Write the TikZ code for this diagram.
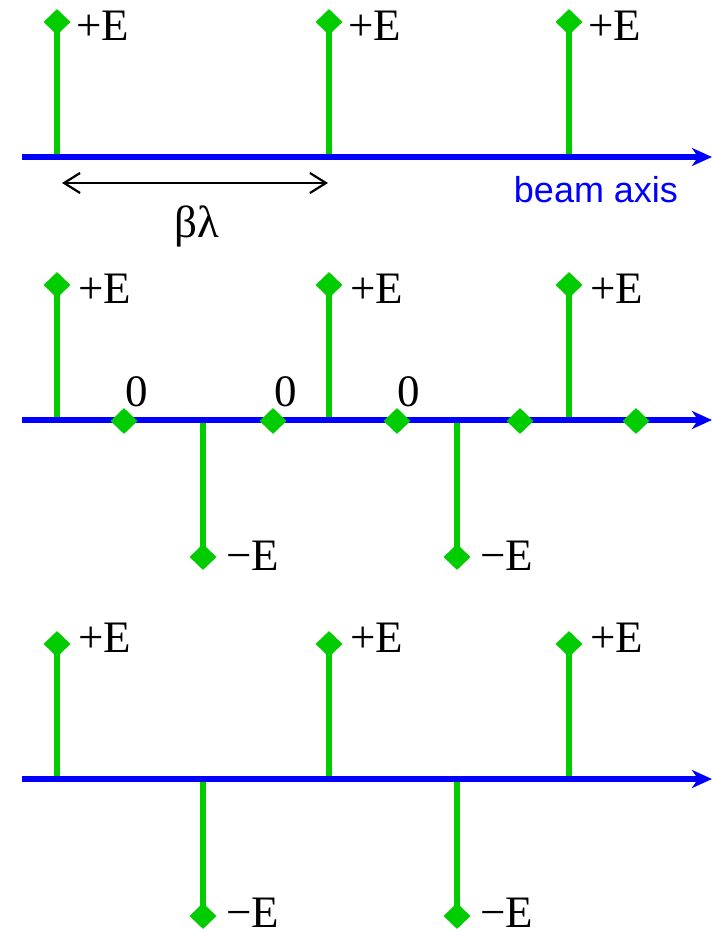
\documentclass[tikz,border=0pt]{standalone}
\usepackage{fontspec}
\setmainfont{Liberation Serif}
\newfontfamily\axisfont{Liberation Sans}
\usetikzlibrary{arrows.meta,shapes.geometric}
\definecolor{stemgreen}{RGB}{0,204,0}
\definecolor{axisblue}{RGB}{0,0,255}
\begin{document}
\begin{tikzpicture}[x=1pt,y=-1pt,
  axisline/.style={draw=axisblue,line width=5.5pt,-{Stealth[length=20pt,width=18pt,inset=6pt]}},
  stemline/.style={draw=stemgreen,line width=5.5pt},
  dmd/.style={shape=diamond,fill=stemgreen,inner sep=0pt,minimum width=27pt,minimum height=26pt},
  lbl/.style={inner sep=0pt,anchor=base west,font=\fontsize{45}{50}\selectfont},
  zlbl/.style={inner sep=0pt,anchor=base,font=\fontsize{45}{50}\selectfont},
  dimline/.style={draw=black,line width=2.2pt,{Straight Barb[length=16pt,width=20pt]}-{Straight Barb[length=16pt,width=20pt]}}]
\path[use as bounding box] (0,0) rectangle (712,933);

% ---------- panel 1 ----------
\coordinate (a1s) at (22,157);
\coordinate (a1e) at (712,157);
\foreach \n/\x in {1/57,2/329,3/569}{
  \coordinate (p1b\n) at (\x,157);
  \node[dmd] (p1d\n) at (\x,22) {};
  \draw[stemline] (p1d\n.center) -- (p1b\n);
  \node[lbl] (p1l\n) at (\x+19,41) {+E};
}
\draw[axisline] (a1s) -- (a1e);
\node[inner sep=0pt,anchor=base,text=axisblue,font=\axisfont\fontsize{36}{40}\selectfont] (beam) at (596,203) {beam axis};
\coordinate (bl) at (62,183);
\coordinate (br) at (328,183);
\draw[dimline] (bl) -- (br);
\node[zlbl] (bl1) at (197,237) {βλ};

% ---------- panel 2 ----------
\coordinate (a2s) at (22,420);
\coordinate (a2e) at (712,420);
\foreach \n/\x in {1/57,2/329,3/569}{
  \coordinate (p2b\n) at (\x,420);
  \node[dmd] (p2d\n) at (\x,285) {};
  \draw[stemline] (p2d\n.center) -- (p2b\n);
  \node[lbl] (p2l\n) at (\x+21,303) {+E};
}
\foreach \n/\x in {1/203,2/457}{
  \coordinate (p2c\n) at (\x,420);
  \node[dmd] (p2n\n) at (\x,557) {};
  \draw[stemline] (p2c\n) -- (p2n\n.center);
  \node[lbl] (p2m\n) at (\x+23,570) {−E};
}
\draw[axisline] (a2s) -- (a2e);
\foreach \n/\x in {1/124,2/273,3/397,4/520,5/636}{
  \node[dmd] (p2z\n) at (\x,421) {};
}
\node[zlbl] (z1) at (137,406) {0};
\node[zlbl] (z2) at (286,406) {0};
\node[zlbl] (z3) at (409,406) {0};

% ---------- panel 3 ----------
\coordinate (a3s) at (22,779);
\coordinate (a3e) at (712,779);
\foreach \n/\x in {1/57,2/329,3/569}{
  \coordinate (p3b\n) at (\x,779);
  \node[dmd] (p3d\n) at (\x,644) {};
  \draw[stemline] (p3d\n.center) -- (p3b\n);
  \node[lbl] (p3l\n) at (\x+21,652) {+E};
}
\foreach \n/\x in {1/203,2/457}{
  \coordinate (p3c\n) at (\x,779);
  \node[dmd] (p3n\n) at (\x,916) {};
  \draw[stemline] (p3c\n) -- (p3n\n.center);
  \node[lbl] (p3m\n) at (\x+23,927) {−E};
}
\draw[axisline] (a3s) -- (a3e);
\end{tikzpicture}
\end{document}
